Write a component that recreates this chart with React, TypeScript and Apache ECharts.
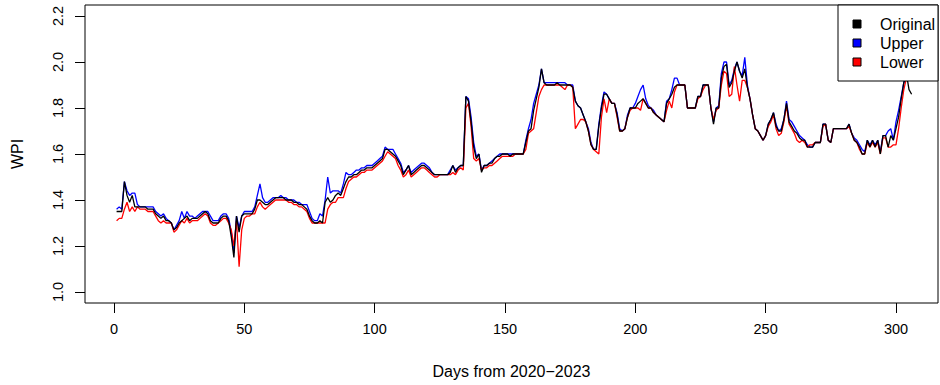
import React, { useEffect, useRef } from "react";
import * as echarts from "echarts";

const xTicks = [0, 50, 100, 150, 200, 250, 300];
const yTicks = [1.0, 1.2, 1.4, 1.6, 1.8, 2.0, 2.2];
const seriesNames = ["Original", "Upper", "Lower"];

const original = [
  1.35,1.35,1.35,1.48,1.42,1.39,1.42,1.37,1.37,1.37,
  1.37,1.37,1.36,1.36,1.36,1.34,1.33,1.32,1.33,1.31,
  1.31,1.30,1.27,1.28,1.30,1.31,1.32,1.33,1.31,1.32,
  1.32,1.32,1.33,1.34,1.35,1.34,1.31,1.30,1.30,1.30,
  1.32,1.33,1.33,1.31,1.24,1.15,1.33,1.26,1.33,1.34,
  1.34,1.34,1.34,1.36,1.40,1.40,1.39,1.38,1.38,1.39,
  1.40,1.41,1.41,1.41,1.41,1.40,1.40,1.40,1.39,1.39,
  1.38,1.38,1.37,1.36,1.33,1.31,1.30,1.30,1.31,1.30,
  1.39,1.41,1.39,1.40,1.42,1.43,1.42,1.45,1.48,1.50,
  1.50,1.51,1.51,1.52,1.53,1.53,1.54,1.54,1.54,1.55,
  1.56,1.57,1.58,1.62,1.62,1.61,1.60,1.59,1.57,1.55,
  1.51,1.53,1.55,1.51,1.52,1.53,1.54,1.55,1.55,1.54,
  1.53,1.52,1.51,1.51,1.51,1.51,1.51,1.51,1.52,1.55,
  1.52,1.54,1.55,1.55,1.85,1.83,1.74,1.63,1.58,1.60,
  1.52,1.55,1.55,1.56,1.56,1.58,1.59,1.59,1.60,1.60,
  1.60,1.59,1.60,1.60,1.60,1.60,1.60,1.65,1.70,1.71,
  1.79,1.84,1.89,1.97,1.91,1.90,1.90,1.90,1.90,1.91,
  1.90,1.90,1.90,1.90,1.90,1.89,1.83,1.81,1.80,1.77,
  1.74,1.70,1.64,1.62,1.62,1.72,1.80,1.86,1.86,1.84,
  1.82,1.82,1.77,1.70,1.70,1.71,1.76,1.80,1.80,1.80,
  1.82,1.83,1.84,1.82,1.80,1.80,1.78,1.77,1.76,1.75,
  1.74,1.82,1.84,1.86,1.89,1.90,1.90,1.90,1.90,1.80,
  1.80,1.80,1.80,1.85,1.85,1.90,1.90,1.90,1.80,1.73,
  1.80,1.80,1.93,1.98,1.99,1.89,1.91,1.96,2.00,1.96,
  1.93,1.97,1.89,1.84,1.77,1.71,1.70,1.68,1.66,1.68,
  1.73,1.75,1.78,1.72,1.70,1.70,1.75,1.82,1.74,1.72,
  1.70,1.69,1.67,1.66,1.66,1.63,1.63,1.63,1.65,1.65,
  1.65,1.73,1.73,1.66,1.65,1.71,1.71,1.71,1.71,1.71,
  1.71,1.73,1.69,1.66,1.65,1.63,1.60,1.60,1.66,1.63,
  1.66,1.63,1.66,1.60,1.68,1.68,1.63,1.68,1.66,1.71,
  1.76,1.84,1.91,1.95,1.88,1.86,
];

const upper = [
  1.36,1.37,1.36,1.48,1.44,1.42,1.43,1.43,1.38,1.37,
  1.37,1.37,1.37,1.37,1.37,1.35,1.34,1.33,1.34,1.32,
  1.31,1.30,1.27,1.29,1.31,1.35,1.32,1.35,1.33,1.33,
  1.32,1.33,1.34,1.35,1.35,1.35,1.33,1.31,1.31,1.31,
  1.33,1.34,1.34,1.32,1.26,1.17,1.33,1.28,1.33,1.35,
  1.35,1.35,1.35,1.37,1.42,1.47,1.41,1.39,1.39,1.40,
  1.41,1.41,1.41,1.42,1.41,1.41,1.40,1.40,1.40,1.39,
  1.39,1.38,1.38,1.38,1.35,1.32,1.31,1.31,1.34,1.33,
  1.40,1.50,1.43,1.44,1.44,1.44,1.43,1.47,1.52,1.51,
  1.51,1.52,1.53,1.53,1.54,1.54,1.55,1.55,1.55,1.56,
  1.57,1.58,1.59,1.63,1.62,1.62,1.62,1.60,1.58,1.56,
  1.52,1.53,1.55,1.52,1.53,1.54,1.55,1.56,1.56,1.55,
  1.54,1.52,1.51,1.51,1.51,1.51,1.51,1.51,1.53,1.55,
  1.53,1.54,1.55,1.55,1.85,1.84,1.76,1.65,1.59,1.60,
  1.53,1.55,1.55,1.56,1.57,1.58,1.59,1.60,1.60,1.60,
  1.60,1.60,1.60,1.60,1.60,1.60,1.60,1.66,1.71,1.75,
  1.82,1.86,1.90,1.97,1.91,1.91,1.91,1.91,1.91,1.91,
  1.91,1.91,1.91,1.90,1.90,1.90,1.83,1.81,1.80,1.77,
  1.74,1.71,1.65,1.62,1.62,1.73,1.81,1.87,1.86,1.84,
  1.82,1.82,1.78,1.71,1.70,1.71,1.77,1.80,1.80,1.82,
  1.85,1.88,1.90,1.84,1.81,1.80,1.79,1.77,1.76,1.75,
  1.74,1.83,1.84,1.88,1.93,1.93,1.90,1.90,1.90,1.80,
  1.80,1.80,1.80,1.85,1.85,1.90,1.90,1.90,1.80,1.74,
  1.80,1.81,1.95,2.00,2.00,1.90,1.92,1.97,2.00,1.96,
  1.94,2.02,1.90,1.84,1.77,1.71,1.70,1.68,1.66,1.68,
  1.73,1.75,1.78,1.73,1.70,1.71,1.75,1.83,1.75,1.74,
  1.72,1.70,1.68,1.67,1.66,1.64,1.63,1.63,1.65,1.65,
  1.65,1.73,1.73,1.66,1.65,1.71,1.71,1.71,1.71,1.71,
  1.71,1.73,1.69,1.67,1.66,1.64,1.62,1.61,1.66,1.64,
  1.66,1.64,1.66,1.61,1.68,1.68,1.70,1.71,1.66,1.74,
  1.79,1.85,1.91,1.95,
];

const lower = [
  1.31,1.32,1.32,1.36,1.39,1.35,1.37,1.35,1.37,1.36,
  1.36,1.36,1.35,1.35,1.35,1.33,1.31,1.30,1.31,1.30,
  1.30,1.30,1.26,1.27,1.29,1.31,1.30,1.32,1.30,1.31,
  1.31,1.31,1.32,1.33,1.34,1.33,1.30,1.29,1.29,1.30,
  1.31,1.32,1.32,1.30,1.27,1.20,1.31,1.11,1.27,1.32,
  1.33,1.33,1.34,1.34,1.37,1.39,1.37,1.36,1.37,1.38,
  1.39,1.40,1.40,1.40,1.40,1.40,1.39,1.39,1.38,1.38,
  1.37,1.37,1.36,1.35,1.32,1.30,1.30,1.30,1.30,1.30,
  1.30,1.36,1.38,1.39,1.39,1.41,1.41,1.41,1.45,1.48,
  1.49,1.50,1.50,1.51,1.52,1.52,1.53,1.53,1.53,1.54,
  1.55,1.56,1.57,1.59,1.61,1.60,1.59,1.58,1.55,1.53,
  1.50,1.51,1.53,1.50,1.51,1.52,1.53,1.54,1.54,1.53,
  1.52,1.51,1.50,1.50,1.51,1.51,1.51,1.51,1.51,1.52,
  1.51,1.53,1.54,1.53,1.80,1.82,1.72,1.58,1.57,1.58,
  1.53,1.54,1.54,1.55,1.55,1.56,1.57,1.58,1.59,1.59,
  1.59,1.59,1.59,1.60,1.60,1.60,1.60,1.62,1.69,1.70,
  1.71,1.78,1.85,1.88,1.90,1.90,1.90,1.90,1.90,1.90,
  1.90,1.89,1.88,1.90,1.90,1.89,1.71,1.73,1.75,1.75,
  1.74,1.70,1.64,1.62,1.61,1.60,1.76,1.84,1.78,1.84,
  1.82,1.82,1.76,1.70,1.70,1.71,1.76,1.79,1.80,1.80,
  1.80,1.79,1.84,1.82,1.80,1.80,1.78,1.77,1.76,1.75,
  1.74,1.79,1.83,1.80,1.87,1.90,1.90,1.90,1.90,1.80,
  1.80,1.80,1.80,1.84,1.85,1.88,1.90,1.90,1.80,1.75,
  1.79,1.80,1.90,1.96,1.95,1.85,1.86,1.98,1.90,1.83,
  1.92,1.92,1.89,1.84,1.77,1.71,1.70,1.68,1.66,1.68,
  1.72,1.74,1.77,1.71,1.68,1.69,1.74,1.81,1.73,1.71,
  1.69,1.66,1.65,1.66,1.65,1.63,1.64,1.64,1.65,1.65,
  1.65,1.72,1.73,1.66,1.65,1.71,1.71,1.71,1.71,1.71,
  1.71,1.72,1.69,1.66,1.65,1.62,1.60,1.60,1.65,1.63,
  1.65,1.63,1.65,1.60,1.67,1.67,1.63,1.63,1.64,1.64,
  1.71,1.80,1.88,1.93,
];

const colors = { Original: "#000000", Upper: "#0000ff", Lower: "#ff0000" };
const FONT = "'Liberation Sans', Arial, sans-serif";

export default function App() {
  const ref = useRef<HTMLDivElement>(null);
  useEffect(() => {
    if (!ref.current) return;
    const chart = echarts.init(ref.current, null, { renderer: "svg" });
    const toPairs = (arr: number[]) => arr.map((v, i) => [i + 1, v]);
    const mk = (name: string, arr: number[], z: number) => ({
      name,
      type: "line",
      data: toPairs(arr),
      showSymbol: false,
      symbol: "none",
      z,
      lineStyle: { color: (colors as any)[name], width: 1.3 },
      itemStyle: { color: (colors as any)[name] },
      emphasis: { disabled: true },
    });
    const legendRows = seriesNames.map((n, i) => [
      {
        type: "rect",
        shape: { x: 853, y: 20 + i * 19, width: 8, height: 8 },
        style: { fill: (colors as any)[n], stroke: "#000", lineWidth: 1 },
        z: 101,
      },
      {
        type: "text",
        x: 880,
        y: 24.5 + i * 19,
        style: {
          text: n,
          fill: "#000",
          font: `16px ${FONT}`,
          verticalAlign: "middle",
        },
        z: 101,
      },
    ]).flat();

    chart.setOption({
      animation: false,
      backgroundColor: "#fff",
      grid: {
        left: 85,
        right: 2,
        top: 5,
        bottom: 82,
        show: true,
        borderColor: "#000",
        borderWidth: 1,
        backgroundColor: "transparent",
      },
      xAxis: {
        type: "value",
        min: -11.12,
        max: 316.12,
        name: "Days from 2020\u22122023",
        nameLocation: "middle",
        nameGap: 60,
        nameTextStyle: { fontFamily: FONT, fontSize: 16, color: "#000" },
        axisLine: { show: false, onZero: false },
        axisTick: {
          show: true,
          customValues: xTicks,
          length: 10,
          lineStyle: { color: "#000" },
        },
        axisLabel: {
          customValues: xTicks,
          margin: 18,
          fontFamily: FONT,
          fontSize: 14.5,
          color: "#000",
        },
        splitLine: { show: false },
      },
      yAxis: {
        type: "value",
        min: 0.952,
        max: 2.248,
        name: "WPI",
        nameLocation: "middle",
        nameRotate: 90,
        nameGap: 60,
        nameTextStyle: { fontFamily: FONT, fontSize: 16, color: "#000" },
        axisLine: { show: false, onZero: false },
        axisTick: {
          show: true,
          customValues: yTicks,
          length: 10,
          lineStyle: { color: "#000" },
        },
        axisLabel: {
          customValues: yTicks,
          rotate: 90,
          margin: 20,
          fontFamily: FONT,
          fontSize: 14.5,
          color: "#000",
          formatter: (v: number) => v.toFixed(1),
        },
        splitLine: { show: false },
      },
      series: [mk("Upper", upper, 2), mk("Lower", lower, 3), mk("Original", original, 4)],
      graphic: [
        {
          type: "rect",
          shape: { x: 838, y: 5, width: 100, height: 76 },
          style: { fill: "#fff", stroke: "#000", lineWidth: 1 },
          z: 100,
        },
        ...legendRows,
      ],
    });
    return () => chart.dispose();
  }, []);
  return (
    <div
      ref={ref}
      style={{ position: "absolute", left: 0, top: 0, width: 940, height: 385 }}
    />
  );
}
